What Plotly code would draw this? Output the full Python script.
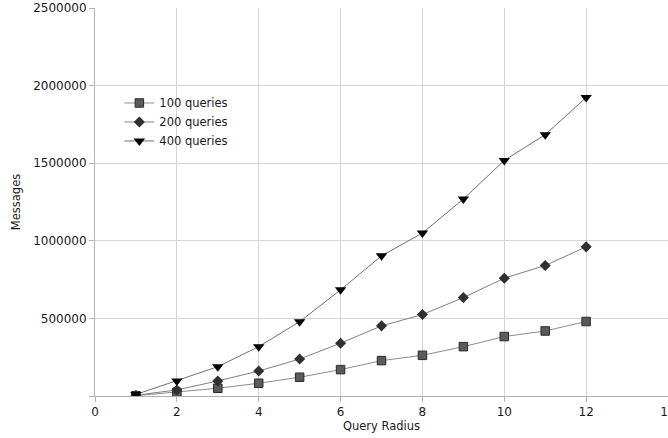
import plotly.graph_objects as go

radius = [1, 2, 3, 4, 5, 6, 7, 8, 9, 10, 11, 12]
q100 = [2000, 24000, 50000, 82000, 121000, 170000, 228000, 262000, 318000, 383000, 419000, 480000]
q200 = [5000, 39000, 97000, 161000, 238000, 340000, 452000, 525000, 634000, 759000, 841000, 961000]
q400 = [10000, 97000, 189000, 318000, 479000, 684000, 903000, 1050000, 1269000, 1518000, 1684000, 1923000]
x_ticks = [0, 2, 4, 6, 8, 10, 12, 14]
y_ticks = [0, 500000, 1000000, 1500000, 2000000, 2500000]
y_tick_text = ["", "500000", "1000000", "1500000", "2000000", "2500000"]

font = "DejaVu Sans"
fig = go.Figure()
fig.add_trace(go.Scatter(
    x=radius, y=q100, name="100 queries", mode="lines+markers",
    line=dict(color="#8c8c8c", width=1),
    marker=dict(symbol="square", size=8.5, color="#5a5a5a", line=dict(color="#2a2a2a", width=1)),
))
fig.add_trace(go.Scatter(
    x=radius, y=q200, name="200 queries", mode="lines+markers",
    line=dict(color="#808080", width=1),
    marker=dict(symbol="diamond", size=8.5, color="#303030", line=dict(width=0)),
))
fig.add_trace(go.Scatter(
    x=radius, y=q400, name="400 queries", mode="lines+markers",
    line=dict(color="#707070", width=1),
    marker=dict(symbol="triangle-down", size=10, color="#000000", line=dict(width=0)),
))

fig.update_layout(
    width=668, height=438,
    margin=dict(l=95, r=0, t=8, b=42),
    paper_bgcolor="white", plot_bgcolor="white",
    font=dict(family=font, size=12, color="#1a1a1a"),
    showlegend=True,
    legend=dict(x=0.0425, y=0.7926, xanchor="left", yanchor="top",
                bgcolor="rgba(0,0,0,0)", font=dict(size=11.5, family=font),
                itemwidth=30, tracegroupgap=0),
    xaxis=dict(
        range=[0, 14], tickvals=x_ticks, ticktext=[str(v) for v in x_ticks],
        showgrid=True, gridcolor="#d4d4d4", gridwidth=1,
        showline=True, linecolor="#b3b3b3", linewidth=1,
        ticks="outside", ticklen=5, tickcolor="#b3b3b3",
        zeroline=False, automargin=False, ticklabeloverflow="allow",
        title=dict(text="Query Radius", font=dict(size=11.5, family=font), standoff=2),
        tickfont=dict(size=12, family=font),
    ),
    yaxis=dict(
        range=[0, 2500000], tickvals=y_ticks, ticktext=y_tick_text,
        showgrid=True, gridcolor="#d4d4d4", gridwidth=1,
        showline=True, linecolor="#b3b3b3", linewidth=1,
        ticks="outside", ticklen=5, tickcolor="#b3b3b3",
        zeroline=False, automargin=False, ticklabeloverflow="allow",
        title=dict(text="Messages", font=dict(size=11.5, family=font), standoff=10),
        tickfont=dict(size=12, family=font),
    ),
)

fig.write_html("out.html", config={"displayModeBar": False},
               post_script="document.body.style.margin='0';document.body.style.padding='0';")
